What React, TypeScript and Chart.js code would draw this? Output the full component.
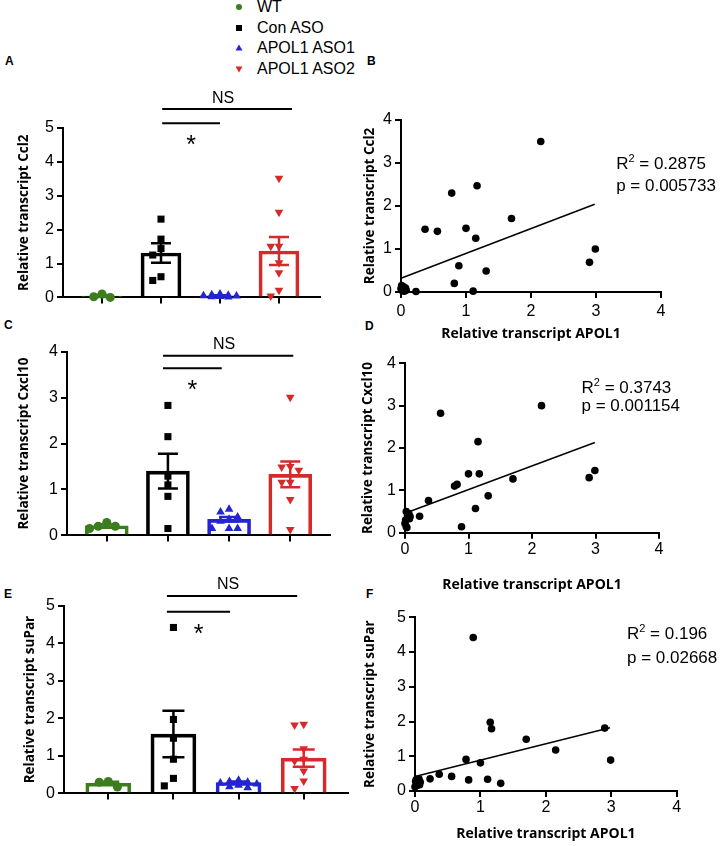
import React, { useEffect, useRef } from 'react';
import { Chart, registerables } from 'chart.js';
Chart.register(...registerables);

// ---------------- data ----------------
const groups = ['WT', 'Con ASO', 'APOL1 ASO1', 'APOL1 ASO2'];
const ccl2Ticks = [0, 1, 2, 3, 4, 5];
const cxcl10Ticks = [0, 1, 2, 3, 4];
const suparTicks = [0, 1, 2, 3, 4, 5];
const apol1Ticks = [0, 1, 2, 3, 4];
const corrCcl2Ticks = [0, 1, 2, 3, 4];
const corrCxcl10Ticks = [0, 1, 2, 3, 4];
const corrSuparTicks = [0, 1, 2, 3, 4, 5];

const ccl2WT = [0.1, 0.0, 0.02];
const ccl2Con = [2.31, 1.72, 1.44, 1.25, 0.5, 0.61];
const ccl2Aso1 = [0.1, 0.06, 0.03, 0.02, 0.08, 0.04, 0.01, 0.05];
const ccl2Aso2 = [3.52, 2.51, 1.51, 1.51, 1.02, 0.73, 0.21, 0.04];
const ccl2Mean = [0.04, 1.31, 0.05, 1.37];
const ccl2Sem = [0.03, 0.29, 0.01, 0.41];

const cxcl10WT = [0.28, 0.15, 0.2, 0.2];
const cxcl10Con = [2.83, 2.15, 1.29, 1.1, 0.85, 0.15];
const cxcl10Aso1 = [0.51, 0.57, 0.4, 0.31, 0.35, 0.15, 0.15, 0.15];
const cxcl10Aso2 = [3.01, 1.5, 1.42, 1.49, 1.16, 1.16, 0.78, 0.13];
const cxcl10Mean = [0.21, 1.4, 0.35, 1.33];
const cxcl10Sem = [0.03, 0.38, 0.05, 0.28];

const suparWT = [0.32, 0.17, 0.3];
const suparCon = [4.42, 1.97, 1.47, 0.91, 0.4, 0.2];
const suparAso1 = [0.35, 0.32, 0.3, 0.28, 0.25, 0.22, 0.18, 0.15];
const suparAso2 = [1.84, 1.82, 1.19, 0.91, 0.86, 0.6, 0.33, 0.13];
const suparMean = [0.27, 1.58, 0.29, 0.94];
const suparSem = [0.04, 0.62, 0.03, 0.23];

const sigLabels = ['NS', '*'];

// correlation: same 25 mice
const apol1 = [0.23, 0.37, 0.56, 0.78, 0.82, 0.89, 1.0, 1.11, 1.15, 1.17, 1.31, 1.7, 2.15, 2.9, 2.99,
  0.0, 0.01, 0.02, 0.02, 0.03, 0.04, 0.05, 0.06, 0.07, 0.08];
const ccl2Corr = [0.01, 1.46, 1.41, 2.3, 0.2, 0.61, 1.48, 0.02, 1.25, 2.47, 0.49, 1.71, 3.5, 0.69, 1.0,
  0.08, 0.15, 0.03, 0.1, 0.06, 0.12, 0.02, 0.05, 0.09, 0.04];
const cxcl10Corr = [0.39, 0.76, 2.82, 1.1, 1.14, 0.14, 1.39, 0.57, 2.15, 1.39, 0.87, 1.27, 3.0, 1.3, 1.47,
  0.22, 0.3, 0.14, 0.5, 0.12, 0.42, 0.36, 0.45, 0.33, 0.38];
const suparCorr = [0.35, 0.48, 0.42, 0.91, 0.32, 4.42, 0.81, 0.34, 1.98, 1.79, 0.22, 1.49, 1.18, 1.81, 0.89,
  0.12, 0.28, 0.2, 0.33, 0.16, 0.3, 0.22, 0.35, 0.18, 0.26];
const ccl2FitX = [0, 2.98];
const ccl2FitY = [0.32, 2.04];
const cxcl10FitX = [0, 2.99];
const cxcl10FitY = [0.46, 2.13];
const suparFitX = [0, 2.98];
const suparFitY = [0.42, 1.82];
const ccl2Stats = ['0.2875', '0.005733'];
const cxcl10Stats = ['0.3743', '0.001154'];
const suparStats = ['0.196', '0.02668'];

// ---------------- style ----------------
const COLORS = ['#3c7d1e', '#000000', '#2424d2', '#d62a2a'];
const STYLES = ['circle', 'rect', 'triangle', 'triangle'];
const ROTS = [0, 0, 0, 180];
const RADII = [4.5, 5, 5, 5];
const SANS = '"Liberation Sans", Arial, sans-serif';
const TICK_FONT = { family: SANS, size: 16 };
const TITLE_FONT = { family: '"Open Sans", sans-serif', size: 13.5, weight: 'bold' as const };
const XTITLE_FONT = { family: '"Open Sans", sans-serif', size: 14, weight: 'bold' as const };

type Box = { left: number; top: number; width: number; height: number };
type Area = { l: number; t: number; r: number; b: number };

function swarm(vals: number[], yRange: number): number[] {
  const step = 0.14;
  const thr = yRange * 0.045;
  const cands = [0, -step, step, -2 * step, 2 * step];
  const placed: { x: number; y: number }[] = [];
  const out = new Array(vals.length).fill(0);
  const order = vals.map((_, i) => i).sort((a, b) => vals[b] - vals[a]);
  for (const i of order) {
    const v = vals[i];
    let best = 0;
    let bestScore = -Infinity;
    for (const c of cands) {
      let minD = Infinity;
      for (const p of placed) {
        minD = Math.min(minD, Math.hypot((p.x - c) / step, (p.y - v) / thr));
      }
      if (minD >= 1) { best = c; break; }
      if (minD > bestScore) { bestScore = minD; best = c; }
    }
    placed.push({ x: best, y: v });
    out[i] = best;
  }
  return out;
}

function axisBase(ticks: number[]) {
  return {
    afterBuildTicks: (s: any) => { s.ticks = ticks.map((v) => ({ value: v })); },
    grid: { display: true, drawOnChartArea: false, drawTicks: true, tickLength: 6, color: '#000', lineWidth: 2, offset: false },
    border: { display: true, color: '#000', width: 2 },
  };
}

type BarPanel = {
  box: Box; area: Area; xMin: number; xMax: number; barPx: number; cap: number;
  ticks: number[]; title: string; titleX: number;
  points: number[][]; means: number[]; sems: number[];
  brackets: { from: number; to: number; y: number }[];
};

function makeBarConfig(p: BarPanel): any {
  const { box, area } = p;
  const xH = 12;
  const yMax = p.ticks[p.ticks.length - 1];
  const tlh = TITLE_FONT.size * 1.2;
  const datasets: any[] = [
    {
      type: 'bar',
      data: p.means.map((m, i) => ({ x: i, y: m })),
      backgroundColor: 'rgba(255,255,255,0)',
      borderColor: COLORS,
      borderWidth: 3,
      barThickness: p.barPx,
      order: 10,
      clip: false,
    },
    ...p.points.map((vals, g) => {
      const offs = swarm(vals, yMax);
      return {
        type: 'scatter',
        data: vals.map((v, k) => ({ x: g + offs[k], y: v })),
        pointStyle: STYLES[g], rotation: ROTS[g], pointRadius: RADII[g],
        backgroundColor: COLORS[g], borderColor: COLORS[g], borderWidth: 0,
        order: 1, clip: false,
      };
    }),
  ];
  const errPlugin = {
    id: 'errbars',
    afterDatasetDraw(chart: any, args: any) {
      if (args.index !== 0) return;
      const { ctx } = chart;
      const xs = chart.scales.x, ys = chart.scales.y;
      ctx.save();
      p.means.forEach((m, i) => {
        const px = xs.getPixelForValue(i);
        const top = ys.getPixelForValue(m + p.sems[i]);
        const bot = ys.getPixelForValue(Math.max(0, m - p.sems[i]));
        ctx.strokeStyle = COLORS[i];
        ctx.lineWidth = 2.5;
        ctx.beginPath();
        ctx.moveTo(px, top); ctx.lineTo(px, bot);
        ctx.moveTo(px - p.cap / 2, top); ctx.lineTo(px + p.cap / 2, top);
        ctx.moveTo(px - p.cap / 2, bot); ctx.lineTo(px + p.cap / 2, bot);
        ctx.stroke();
      });
      ctx.restore();
    },
  };
  const bracketPlugin = {
    id: 'brackets',
    afterDraw(chart: any) {
      const { ctx } = chart;
      const xs = chart.scales.x, ys = chart.scales.y;
      ctx.save();
      p.brackets.forEach((br, i) => {
        const x1 = xs.getPixelForValue(br.from), x2 = xs.getPixelForValue(br.to);
        const y = ys.getPixelForValue(br.y);
        ctx.strokeStyle = '#000'; ctx.lineWidth = 2;
        ctx.beginPath(); ctx.moveTo(x1, y); ctx.lineTo(x2, y); ctx.stroke();
        ctx.fillStyle = '#000'; ctx.textAlign = 'center'; ctx.textBaseline = 'alphabetic';
        const label = sigLabels[i];
        if (label === 'NS') {
          ctx.font = `16px ${SANS}`;
          ctx.fillText(label, (x1 + x2) / 2 - 4, y - 6.5);
        } else {
          ctx.font = `25px ${SANS}`;
          ctx.fillText(label, (x1 + x2) / 2, y + 30);
        }
      });
      ctx.restore();
    },
  };
  return {
    type: 'scatter',
    data: { datasets },
    plugins: [errPlugin, bracketPlugin],
    options: {
      responsive: false, animation: false, events: [],
      layout: { padding: { left: 0, top: area.t - box.top, right: box.left + box.width - area.r, bottom: box.top + box.height - area.b - xH } },
      plugins: { legend: { display: false }, tooltip: { enabled: false } },
      scales: {
        x: {
          type: 'linear', min: p.xMin, max: p.xMax, offset: false,
          ...axisBase(groups.map((_, i) => i)),
          ticks: { callback: () => '' },
          afterFit: (s: any) => { s.height = xH; },
        },
        y: {
          type: 'linear', min: 0, max: yMax,
          ...axisBase(p.ticks),
          ticks: { font: TICK_FONT, color: '#000', padding: 3 },
          title: { display: true, text: p.title, font: TITLE_FONT, color: '#000', padding: { top: p.titleX - box.left - tlh / 2, bottom: 0 } },
          afterFit: (s: any) => { s.width = area.l - box.left; },
        },
      },
    },
  };
}

type ScatterPanel = {
  box: Box; area: Area; yTicks: number[]; title: string; titleX: number; xTitleY: number; tickPad: number;
  ys: number[]; fitX: number[]; fitY: number[]; stats: string[];
  statPos: { x: number; yR: number; yP: number };
};

function makeScatterConfig(p: ScatterPanel): any {
  const { box, area } = p;
  const xlh = XTITLE_FONT.size * 1.2;
  const xH = p.xTitleY - area.b + xlh / 2;
  const tlh = TITLE_FONT.size * 1.2;
  const statPlugin = {
    id: 'stats',
    afterDraw(chart: any) {
      const { ctx } = chart;
      const x = chart.scales.x.getPixelForValue(p.statPos.x);
      const yR = chart.scales.y.getPixelForValue(p.statPos.yR) + 6;
      const yP = chart.scales.y.getPixelForValue(p.statPos.yP) + 6;
      ctx.save();
      ctx.fillStyle = '#000'; ctx.textAlign = 'left'; ctx.textBaseline = 'alphabetic';
      ctx.font = `17px ${SANS}`;
      ctx.fillText('R', x, yR);
      const wR = ctx.measureText('R').width;
      ctx.font = `11px ${SANS}`;
      ctx.fillText('2', x + wR, yR - 7);
      const w2 = ctx.measureText('2').width;
      ctx.font = `17px ${SANS}`;
      ctx.fillText(` = ${p.stats[0]}`, x + wR + w2, yR);
      ctx.fillText(`p = ${p.stats[1]}`, x, yP);
      ctx.restore();
    },
  };
  return {
    type: 'scatter',
    data: {
      datasets: [
        { type: 'scatter', data: apol1.map((x, i) => ({ x, y: p.ys[i] })), pointRadius: 3.8, pointStyle: 'circle', backgroundColor: '#000', borderWidth: 0, order: 1, clip: false },
        { type: 'line', data: p.fitX.map((x, i) => ({ x, y: p.fitY[i] })), borderColor: '#000', borderWidth: 1.5, pointRadius: 0, fill: false, tension: 0, order: 2, clip: false },
      ],
    },
    plugins: [statPlugin],
    options: {
      responsive: false, animation: false, events: [],
      layout: { padding: { left: 0, top: area.t - box.top, right: box.left + box.width - area.r, bottom: box.top + box.height - area.b - xH } },
      plugins: { legend: { display: false }, tooltip: { enabled: false } },
      scales: {
        x: {
          type: 'linear', min: 0, max: apol1Ticks[apol1Ticks.length - 1], offset: false,
          ...axisBase(apol1Ticks),
          ticks: { font: TICK_FONT, color: '#000', padding: p.tickPad },
          title: { display: true, text: 'Relative transcript APOL1', font: XTITLE_FONT, color: '#000', padding: { top: 0, bottom: 0 } },
          afterFit: (s: any) => { s.height = xH; },
        },
        y: {
          type: 'linear', min: 0, max: p.yTicks[p.yTicks.length - 1],
          ...axisBase(p.yTicks),
          ticks: { font: TICK_FONT, color: '#000', padding: 3 },
          title: { display: true, text: p.title, font: TITLE_FONT, color: '#000', padding: { top: Math.max(0, p.titleX - box.left - tlh / 2), bottom: 0 } },
          afterFit: (s: any) => { s.width = area.l - box.left; },
        },
      },
    },
  };
}

// ---------------- layout ----------------
const panelA: BarPanel = {
  box: { left: 0, top: 80, width: 360, height: 230 }, area: { l: 63, t: 128, r: 320, b: 298 },
  xMin: -0.661, xMax: 3.695, barPx: 40, cap: 20, ticks: ccl2Ticks, title: 'Relative transcript Ccl2', titleX: 24,
  points: [ccl2WT, ccl2Con, ccl2Aso1, ccl2Aso2], means: ccl2Mean, sems: ccl2Sem,
  brackets: [{ from: 1.02, to: 3.22, y: 5.56 }, { from: 1.02, to: 2.0, y: 5.14 }],
};
const panelC: BarPanel = {
  box: { left: 0, top: 325, width: 360, height: 223 }, area: { l: 67, t: 351.7, r: 330, b: 536 },
  xMin: -0.65, xMax: 3.65, barPx: 43, cap: 20, ticks: cxcl10Ticks, title: 'Relative transcript Cxcl10', titleX: 24,
  points: [cxcl10WT, cxcl10Con, cxcl10Aso1, cxcl10Aso2], means: cxcl10Mean, sems: cxcl10Sem,
  brackets: [{ from: 0.92, to: 3.05, y: 3.91 }, { from: 0.92, to: 1.88, y: 3.64 }],
};
const panelE: BarPanel = {
  box: { left: 0, top: 570, width: 360, height: 236 }, area: { l: 64, t: 605.7, r: 348, b: 794.3 },
  xMin: -0.68, xMax: 3.68, barPx: 45, cap: 22, ticks: suparTicks, title: 'Relative transcript suPar', titleX: 30,
  points: [suparWT, suparCon, suparAso1, suparAso2], means: suparMean, sems: suparSem,
  brackets: [{ from: 0.9, to: 2.9, y: 5.26 }, { from: 0.9, to: 1.87, y: 4.84 }],
};
const panelB: ScatterPanel = {
  box: { left: 360, top: 90, width: 366, height: 252 }, area: { l: 401, t: 120, r: 661, b: 292 },
  yTicks: corrCcl2Ticks, title: 'Relative transcript Ccl2', titleX: 370, xTitleY: 334, tickPad: 4.4,
  ys: ccl2Corr, fitX: ccl2FitX, fitY: ccl2FitY, stats: ccl2Stats, statPos: { x: 3.31, yR: 3.0, yP: 2.49 },
};
const panelD: ScatterPanel = {
  box: { left: 360, top: 342, width: 366, height: 252 }, area: { l: 405, t: 363.3, r: 659, b: 532.7 },
  yTicks: corrCxcl10Ticks, title: 'Relative transcript Cxcl10', titleX: 368, xTitleY: 585, tickPad: 1,
  ys: cxcl10Corr, fitX: cxcl10FitX, fitY: cxcl10FitY, stats: cxcl10Stats, statPos: { x: 2.78, yR: 3.44, yP: 3.02 },
};
const panelF: ScatterPanel = {
  box: { left: 360, top: 600, width: 366, height: 243 }, area: { l: 415, t: 617.3, r: 676.7, b: 791 },
  yTicks: corrSuparTicks, title: 'Relative transcript suPar', titleX: 370.5, xTitleY: 834, tickPad: 1.4,
  ys: suparCorr, fitX: suparFitX, fitY: suparFitY, stats: suparStats, statPos: { x: 3.24, yR: 4.56, yP: 3.87 },
};

function ChartCanvas({ box, make }: { box: Box; make: () => any }) {
  const ref = useRef<HTMLCanvasElement>(null);
  useEffect(() => {
    const chart = new Chart(ref.current as HTMLCanvasElement, make());
    return () => chart.destroy();
  }, []);
  return (
    <canvas ref={ref} width={box.width} height={box.height}
      style={{ position: 'absolute', left: box.left, top: box.top, width: box.width, height: box.height }} />
  );
}

function Marker({ g }: { g: number }) {
  const c = COLORS[g];
  let shape: any;
  if (g === 0) shape = <circle cx={6} cy={6} r={3} fill={c} />;
  else if (g === 1) shape = <rect x={3} y={3} width={6} height={6} fill={c} />;
  else if (g === 2) shape = <polygon points="6,2.5 9.5,8.5 2.5,8.5" fill={c} />;
  else shape = <polygon points="2.5,3.5 9.5,3.5 6,9.5" fill={c} />;
  return <svg width={12} height={12} style={{ display: 'block' }}>{shape}</svg>;
}

const legendY = [7, 27.5, 48, 68.5];
const letters: [string, number, number][] = [
  ['A', 5, 61], ['B', 367, 61], ['C', 4, 325], ['D', 365, 326], ['E', 4, 594], ['F', 366, 594],
];

export default function App() {
  return (
    <div style={{ position: 'absolute', left: 0, top: 0, width: 726, height: 846, background: '#fff', fontFamily: SANS, color: '#000' }}>
      {groups.map((g, i) => (
        <React.Fragment key={g}>
          <div style={{ position: 'absolute', left: 233, top: legendY[i] - 6 }}><Marker g={i} /></div>
          <div style={{ position: 'absolute', left: 257, top: legendY[i] - 10, fontSize: 16, lineHeight: '20px', whiteSpace: 'nowrap' }}>{g}</div>
        </React.Fragment>
      ))}
      {letters.map(([t, x, y]) => (
        <div key={t} style={{ position: 'absolute', left: x, top: y - 7, fontSize: 12, fontWeight: 'bold', lineHeight: '14px' }}>{t}</div>
      ))}
      <ChartCanvas box={panelA.box} make={() => makeBarConfig(panelA)} />
      <ChartCanvas box={panelC.box} make={() => makeBarConfig(panelC)} />
      <ChartCanvas box={panelE.box} make={() => makeBarConfig(panelE)} />
      <ChartCanvas box={panelB.box} make={() => makeScatterConfig(panelB)} />
      <ChartCanvas box={panelD.box} make={() => makeScatterConfig(panelD)} />
      <ChartCanvas box={panelF.box} make={() => makeScatterConfig(panelF)} />
    </div>
  );
}
